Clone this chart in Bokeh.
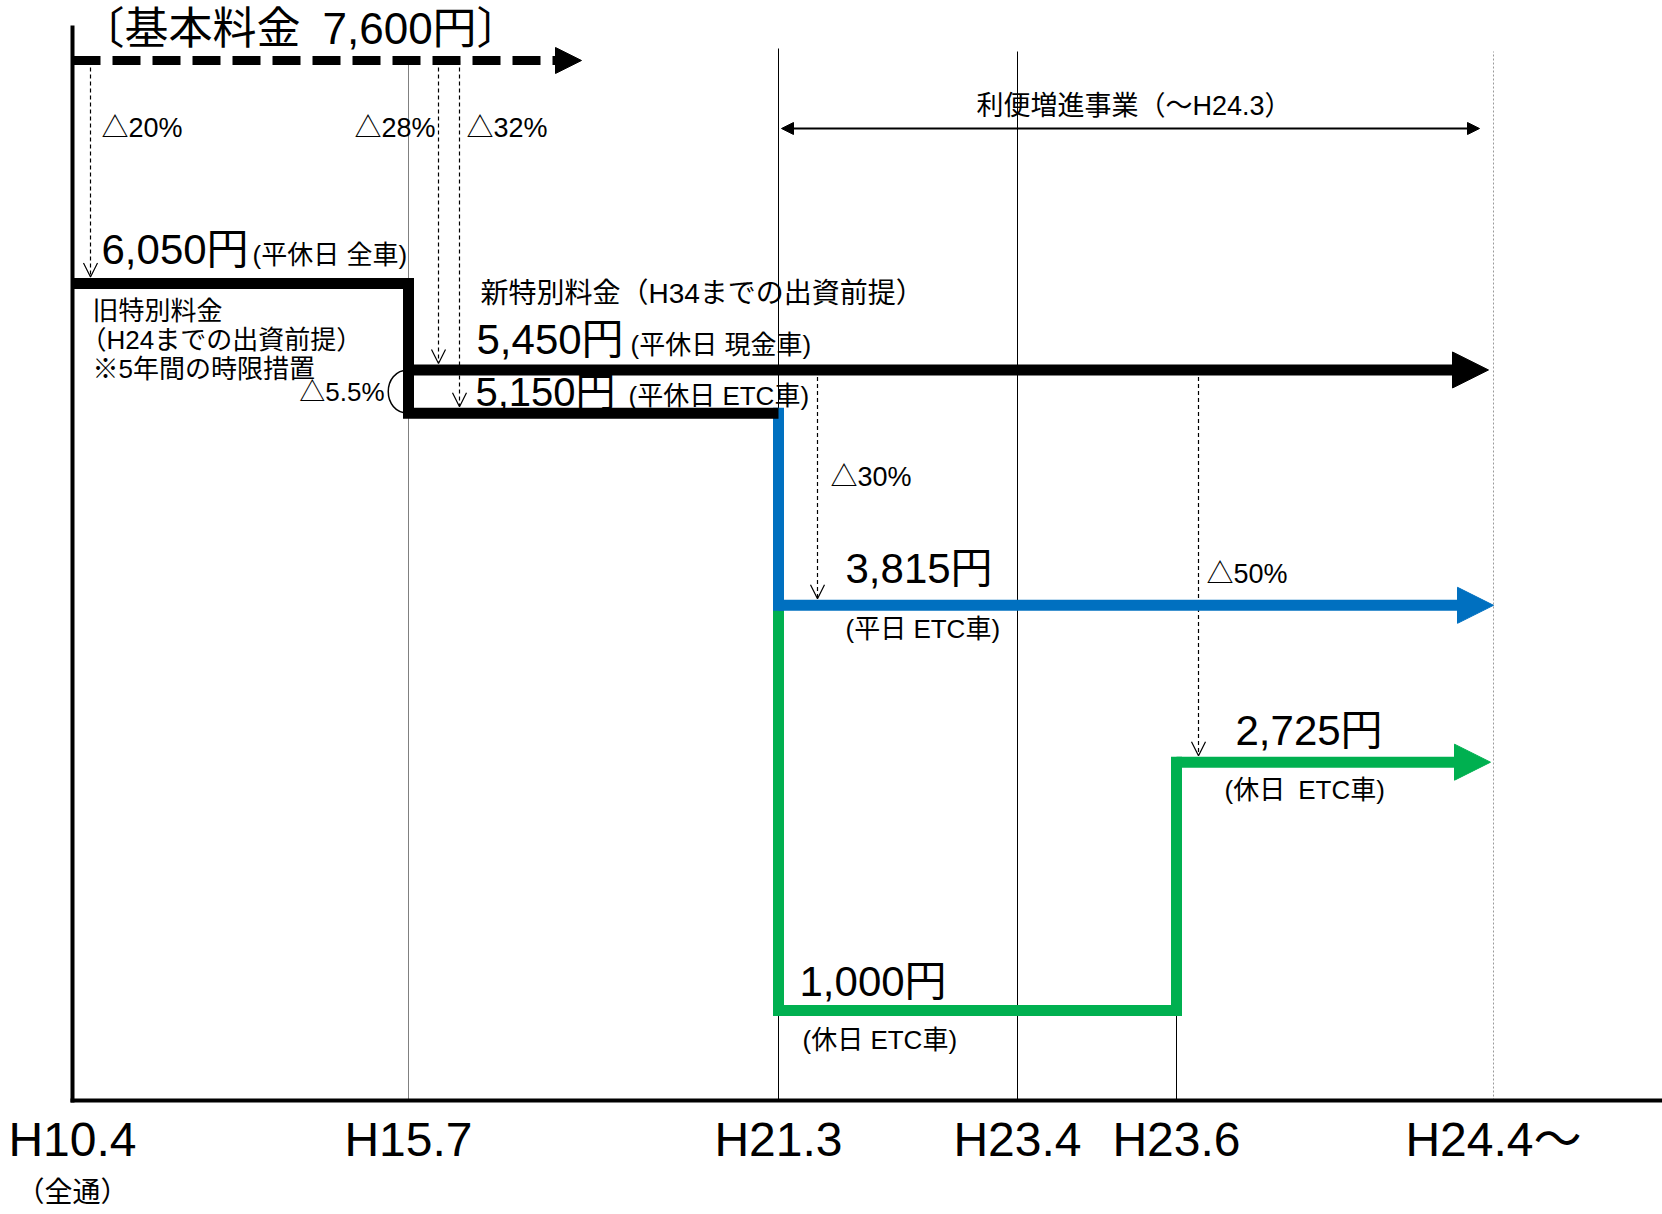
from bokeh.plotting import figure
from bokeh.models import (Range1d, Arrow, NormalHead, OpenHead, FixedTicker, LinearAxis,
                          CustomJSTickFormatter)
from bokeh.core.properties import value
from bokeh.embed import file_html
from bokeh.resources import INLINE

# Revision dates on the timeline and their (schematic) positions along it
milestones = ["H10.4", "H15.7", "H21.3", "H23.4", "H23.6", "H24.4〜"]
milestone_pos = [0.0, 3.36, 7.06, 9.45, 11.04, 14.21]
opening_note = "（全通）"

# Tolls in yen
base_fare = 7600          # 基本料金
old_special = 6050        # 旧特別料金 (平休日 全車)
new_cash = 5450           # 新特別料金 (平休日 現金車)
new_etc = 5150            # 新特別料金 (平休日 ETC車)
weekday_etc = 3815        # 平日 ETC車
holiday_etc_h21 = 1000    # 休日 ETC車 (H21.3〜)
holiday_etc_h23 = 2725    # 休日 ETC車 (H23.6〜)

cut_labels = ["△20%", "△28%", "△32%", "△30%", "△50%"]
gap_label = "△5.5%"

FONT = "Liberation Sans, Noto Sans CJK JP"
BLUE = "#0070C0"
GREEN = "#00B050"

W, H = 1662, 1214
FRAME_H = 1104
PX_PER_X = 100.0
X_LEFT = -0.72
PX_PER_YEN = 0.14394
Y_TOP = 8016.8


def dx(px):
    return px / PX_PER_X


def dy(px):
    return px / PX_PER_YEN


def y_px(px):
    # y value lying px pixels below the top of the frame
    return Y_TOP - px / PX_PER_YEN


xA, xB, xC, xD, xE, xF = milestone_pos
x_right = X_LEFT + W / PX_PER_X
y_base = y_px(1100)

p = figure(width=W, height=H,
           x_range=Range1d(X_LEFT, x_right),
           y_range=Range1d(Y_TOP - FRAME_H / PX_PER_YEN, Y_TOP),
           output_backend="svg", toolbar_location=None,
           y_axis_location=None, x_axis_location="below",
           min_border_left=0, min_border_right=0, min_border_top=0, min_border_bottom=110,
           outline_line_color=None, background_fill_color="white", border_fill_color="white")
p.grid.visible = False


def style_axis(axis, size, standoff):
    axis.axis_line_color = None
    axis.major_tick_line_color = None
    axis.minor_tick_line_color = None
    axis.major_tick_out = 0
    axis.major_tick_in = 0
    axis.minor_tick_out = 0
    axis.minor_tick_in = 0
    axis.major_label_text_font = FONT
    axis.major_label_text_font_size = f"{size}px"
    axis.major_label_text_color = "black"
    axis.major_label_standoff = standoff


ax = p.xaxis[0]
ax.ticker = FixedTicker(ticks=milestone_pos)
ax.formatter = CustomJSTickFormatter(args=dict(pos=milestone_pos, labels=milestones), code="""
    let best = 0, d = Infinity;
    for (let i = 0; i < pos.length; i++) {
        const e = Math.abs(pos[i] - tick);
        if (e < d) { d = e; best = i; }
    }
    return labels[best];
""")
style_axis(ax, 48, 8)

# second row under the first date
ax2 = LinearAxis(ticker=FixedTicker(ticks=[xA]),
                 formatter=CustomJSTickFormatter(args=dict(note=opening_note), code="return note;"))
style_axis(ax2, 28, 8)
p.add_layout(ax2, "below")


def put(x, y, text, size, align="left"):
    p.text(x=[x], y=[y], text=[text], text_font=value(FONT), text_font_size=f"{size}px",
           text_color="black", text_align=align, text_baseline="middle")


# thin date lines
p.segment(x0=[xB], y0=[y_base], x1=[xB], y1=[y_px(64)], line_color="#808080", line_width=1)
p.segment(x0=[xC, xD], y0=[y_base, y_base], x1=[xC, xD], y1=[y_px(48), y_px(51)],
          line_color="black", line_width=1)
p.segment(x0=[xE], y0=[y_base], x1=[xE], y1=[holiday_etc_h21], line_color="black", line_width=1)
p.segment(x0=[xF], y0=[y_base], x1=[xF], y1=[y_px(51)], line_color="#9a9a9a", line_width=1,
          line_dash="2 2")

# frame lines (time axis and the H10.4 edge)
p.segment(x0=[xA, xA], y0=[y_base, y_base], x1=[x_right, xA], y1=[y_base, y_px(27)],
          line_color="black", line_width=4, line_cap="square")

# toll steps
LW = 11
p.line([xC, xC, xE, xE], [weekday_etc, holiday_etc_h21, holiday_etc_h21, holiday_etc_h23],
       line_width=LW, line_color=GREEN, line_join="miter", line_cap="square")
p.line([xC, xC], [new_etc, weekday_etc], line_width=LW, line_color=BLUE, line_cap="square")
p.line([xA, xB, xB, xC], [old_special, old_special, new_etc, new_etc],
       line_width=LW, line_color="black", line_join="miter")

# arc marking the cash / ETC gap
bulge = dx(27)
p.bezier(x0=[xB], y0=[new_cash], x1=[xB], y1=[new_etc],
         cx0=[xB - bulge], cy0=[new_cash], cx1=[xB - bulge], cy1=[new_etc],
         line_color="black", line_width=1.5)

# discount arrows (dashed, open heads)
tip = dy(LW / 2 + 1)
cuts = [
    (xA + dx(18), base_fare, old_special),
    (xB + dx(30), base_fare, new_cash),
    (xB + dx(51), base_fare, new_etc),
    (xC + dx(39), new_cash, weekday_etc),
    (xE + dx(22), new_cash, holiday_etc_h23),
]
for cx, y0, y1 in cuts:
    p.add_layout(Arrow(x_start=cx, y_start=y0, x_end=cx, y_end=y1 + tip,
                       line_color="black", line_width=1.2, line_dash="4 3",
                       end=OpenHead(size=14, line_color="black", line_width=1.2)))

# base fare (dashed)
p.add_layout(Arrow(x_start=xA, y_start=base_fare, x_end=xA + dx(509), y_end=base_fare,
                   line_color="black", line_width=9, line_dash="28 12",
                   end=NormalHead(size=26, fill_color="black", line_color="black", line_width=1)))


def flow_arrow(x0, y, x1, color):
    p.add_layout(Arrow(x_start=x0, y_start=y, x_end=x1, y_end=y, line_color=color, line_width=LW,
                       end=NormalHead(size=36, fill_color=color, line_color=color, line_width=1)))


flow_arrow(xE, holiday_etc_h23, xF - dx(3), GREEN)
flow_arrow(xC, weekday_etc, xF, BLUE)
flow_arrow(xB, new_cash, xF - dx(5), "black")

# 利便増進事業 span
p.add_layout(Arrow(x_start=xC + dx(3), y_start=y_px(128), x_end=xF - dx(14), y_end=y_px(128),
                   line_color="black", line_width=2,
                   start=NormalHead(size=12, fill_color="black", line_color="black", line_width=1),
                   end=NormalHead(size=12, fill_color="black", line_color="black", line_width=1)))
put((xC + xF) / 2 - dx(2), y_px(105), "利便増進事業（〜H24.3）", 27, "center")

# title
put(xA + dx(8), y_px(28), f"〔基本料金\u2002{base_fare:,}円〕", 44)

# discount labels
put(xA + dx(29), base_fare - dy(68), cut_labels[0], 27)
put(xB + dx(27), base_fare - dy(68), cut_labels[1], 27, "right")
put(xB + dx(58), base_fare - dy(68), cut_labels[2], 27)
put(xC + dx(52), weekday_etc + dy(128), cut_labels[3], 27)
put(xE + dx(30), weekday_etc + dy(31), cut_labels[4], 27)
put(xB - dx(24), (new_cash + new_etc) / 2, gap_label, 26, "right")

# tolls
BIG = 42
SMALL = 26
put(xA + dx(29), old_special + dy(34), f"{old_special:,}円", BIG)
put(xA + dx(180), old_special + dy(29), "(平休日 全車)", SMALL)

put(xA + dx(20), old_special - dy(27), "旧特別料金", 26)
put(xA + dx(8), old_special - dy(56), "（H24までの出資前提）", 26)
put(xA + dx(20), old_special - dy(85), "※5年間の時限措置", 26)

put(xB + dx(72), new_cash + dy(76), "新特別料金（H34までの出資前提）", 28)
put(xB + dx(68), new_cash + dy(30), f"{new_cash:,}円", BIG)
put(xB + dx(222), new_cash + dy(25), "(平休日 現金車)", SMALL)
put(xB + dx(67), (new_cash + new_etc) / 2, f"{new_etc:,}円", 40)
put(xB + dx(220), (new_cash + new_etc) / 2 - dy(4), "(平休日 ETC車)", SMALL)

put(xC + dx(67), weekday_etc + dy(37), f"{weekday_etc:,}円", BIG)
put(xC + dx(67), weekday_etc - dy(24), "(平日 ETC車)", SMALL)

put(xE + dx(59), holiday_etc_h23 + dy(32), f"{holiday_etc_h23:,}円", BIG)
put(xE + dx(48), holiday_etc_h23 - dy(28), "(休日\u2002ETC車)", SMALL)

put(xC + dx(21), holiday_etc_h21 + dy(29), f"{holiday_etc_h21:,}円", BIG)
put(xC + dx(24), holiday_etc_h21 - dy(30), "(休日 ETC車)", SMALL)

open("out.html", "w").write(file_html(p, INLINE))
